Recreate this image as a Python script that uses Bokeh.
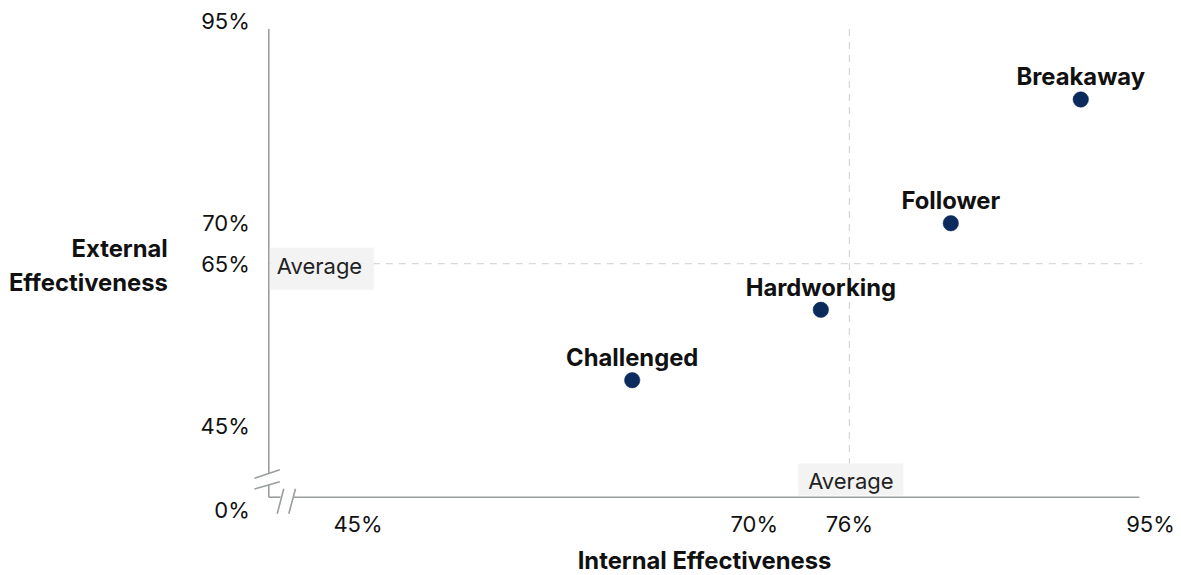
from bokeh.plotting import figure
from bokeh.models import Range1d, ColumnDataSource
from bokeh.core.properties import value
from bokeh.embed import file_html
from bokeh.resources import INLINE

# ---------------- data ----------------
categories = ["Challenged", "Hardworking", "Follower", "Breakaway"]
internal_eff = [62.3, 74.2, 82.4, 90.6]   # x, %
external_eff = [50.6, 59.3, 70.0, 85.3]   # y, %

x_ticks = [45, 70, 76, 95]
x_tick_labels = ["45%", "70%", "76%", "95%"]
y_ticks = [45, 65, 70, 95]
y_tick_labels = ["45%", "65%", "70%", "95%"]
origin_label = "0%"
avg_internal = 76
avg_external = 65
avg_label = "Average"
x_title = "Internal Effectiveness"
y_title = "External\nEffectiveness"

# ---------------- layout / scale calibration ----------------
W, H = 1181, 575
X_REF, X_REF_PX, X_PPU = 45, 357.5, 15.85   # value 45 sits at pixel 357.5, 15.85 px per unit
Y_REF, Y_REF_PX, Y_PPU = 95, 20.5, 8.09


def xd(px):
    return X_REF + (px - X_REF_PX) / X_PPU


def yd(py):
    return Y_REF - (py - Y_REF_PX) / Y_PPU


def dx(n):
    return n / X_PPU


def dy(n):
    return n / Y_PPU


FONT = value("Inter")
AXIS_COLOR = "#9a9e9e"
DASH_COLOR = "#cfcfcf"
BOX_COLOR = "#f2f2f2"
DOT_COLOR = "#0b2b5c"
TEXT_COLOR = "#111111"
BOLD_SIZE = "23.8px"

p = figure(width=W, height=H,
           x_range=Range1d(xd(0), xd(W)), y_range=Range1d(yd(H), yd(0)),
           x_axis_type=None, y_axis_type=None,
           output_backend="svg", toolbar_location=None,
           min_border=0, min_border_left=0, min_border_right=0,
           min_border_top=0, min_border_bottom=0)
p.grid.visible = False
p.outline_line_color = None
p.background_fill_color = "white"
p.border_fill_color = "white"

# axis geometry
AX_X = xd(268.3)
AX_Y = yd(496.7)
AX_TOP = yd(28.5)
AX_RIGHT = xd(1139)

# --- average reference lines (dashed) ---
p.segment(x0=[avg_internal], y0=[AX_TOP], x1=[avg_internal], y1=[AX_Y],
          line_color=DASH_COLOR, line_width=1, line_dash="7 6")
p.segment(x0=[AX_X], y0=[avg_external], x1=[xd(1141)], y1=[avg_external],
          line_color=DASH_COLOR, line_width=1, line_dash="7 6")

# --- axis lines with break marks ---
gy1, gy2 = yd(473), yd(484.5)     # gap in vertical axis
gx1, gx2 = xd(280), xd(293.5)     # gap in horizontal axis
p.segment(x0=[AX_X, AX_X, AX_X, gx2], y0=[AX_TOP, gy2, AX_Y, AX_Y],
          x1=[AX_X, AX_X, gx1, AX_RIGHT], y1=[gy1, AX_Y, AX_Y, AX_Y],
          line_color=AXIS_COLOR, line_width=1.6)
# break slashes
bx0 = [AX_X - dx(14.3), AX_X - dx(14.3), xd(276.7), xd(288.3)]
by0 = [gy1 - dy(4.7), gy2 - dy(4.0), AX_Y - dy(16.6), AX_Y - dy(16.6)]
bx1 = [AX_X + dx(11), AX_X + dx(11), xd(283.3), xd(295)]
by1 = [gy1 + dy(3.7), gy2 + dy(3.3), AX_Y + dy(8.4), AX_Y + dy(8.4)]
p.segment(x0=bx0, y0=by0, x1=bx1, y1=by1, line_color=AXIS_COLOR, line_width=1.6)

# --- average label boxes ---
p.rect(x=[AX_X + dx(53)], y=[avg_external - dy(5)], width=104, height=42,
       width_units="screen", height_units="screen",
       fill_color=BOX_COLOR, fill_alpha=0.92, line_color=None)
p.text(x=[AX_X + dx(8)], y=[avg_external - dy(2)], text=[avg_label],
       text_font=FONT, text_font_size="22px", text_color="#222222",
       text_align="left", text_baseline="middle")

p.rect(x=[avg_internal + dx(1.5)], y=[AX_Y + dy(17.7)], width=105, height=32,
       width_units="screen", height_units="screen",
       fill_color=BOX_COLOR, fill_alpha=0.92, line_color=None)
p.text(x=[avg_internal + dx(1.5)], y=[AX_Y + dy(16)], text=[avg_label],
       text_font=FONT, text_font_size="22px", text_color="#222222",
       text_align="center", text_baseline="middle")

# --- tick labels ---
p.text(x=[AX_X] * len(y_ticks), y=y_ticks, text=y_tick_labels, x_offset=-19,
       text_font=FONT, text_font_size="22px", text_color=TEXT_COLOR,
       text_align="right", text_baseline="middle")
p.text(x=[AX_X], y=[AX_Y], text=[origin_label], x_offset=-19, y_offset=13,
       text_font=FONT, text_font_size="22px", text_color=TEXT_COLOR,
       text_align="right", text_baseline="middle")
p.text(x=x_ticks, y=[AX_Y] * len(x_ticks), text=x_tick_labels, y_offset=27,
       text_font=FONT, text_font_size="22px", text_color=TEXT_COLOR,
       text_align="center", text_baseline="middle")

# --- axis titles ---
p.text(x=[AX_X - dx(101)], y=[yd(265)], text=[y_title],
       text_font=FONT, text_font_size=BOLD_SIZE, text_font_style="bold",
       text_color=TEXT_COLOR, text_align="right", text_baseline="middle",
       text_line_height=1.18)
p.text(x=[xd(704)], y=[yd(560)], text=[x_title],
       text_font=FONT, text_font_size=BOLD_SIZE, text_font_style="bold",
       text_color=TEXT_COLOR, text_align="center", text_baseline="middle")

# --- points and their labels ---
src = ColumnDataSource(dict(x=internal_eff, y=external_eff, name=categories))
p.scatter(x="x", y="y", source=src, size=15.5, marker="circle",
          fill_color=DOT_COLOR, line_color=DOT_COLOR, line_width=0.5)
p.text(x="x", y="y", text="name", source=src, y_offset=-22.5,
       text_font=FONT, text_font_size=BOLD_SIZE, text_font_style="bold",
       text_color=TEXT_COLOR, text_align="center", text_baseline="middle")

open("out.html", "w").write(file_html(p, INLINE))
